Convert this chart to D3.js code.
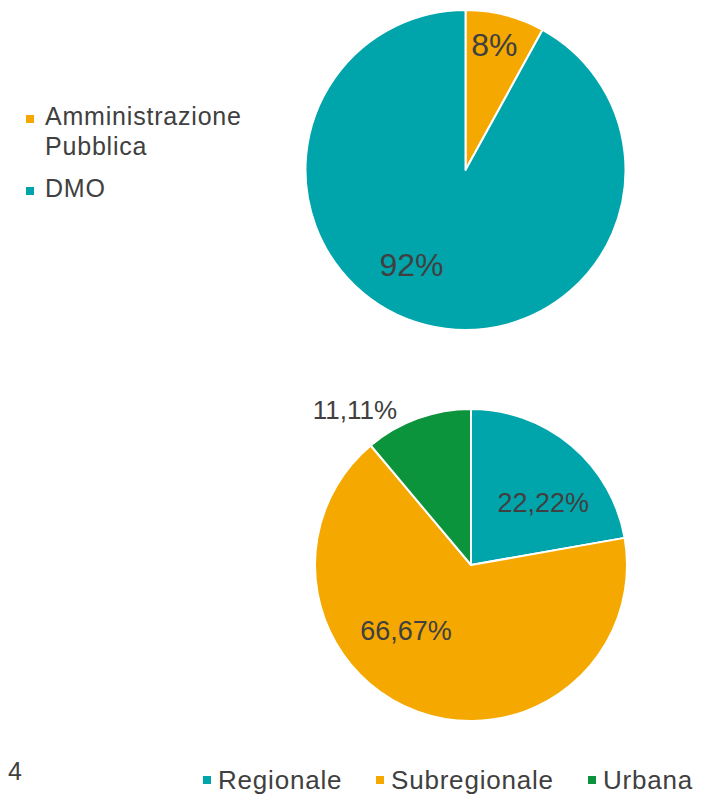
<!DOCTYPE html>
<html>
<head>
<meta charset="utf-8">
<script src="https://cdn.jsdelivr.net/npm/d3@7"></script>
<style>
  html, body { margin: 0; padding: 0; background: #ffffff; }
  svg { display: block; }
  svg text { font-family: Arial, "Liberation Sans", Arimo, sans-serif; }
</style>
</head>
<body>
<svg id="chart" width="709" height="795"></svg>
<script>
// Soggetto gestore
const enteCategories = ["Amministrazione Pubblica", "DMO"];
const enteValues = [8, 92];
const enteLabels = ["8%", "92%"];

// Ambito territoriale
const ambitoCategories = ["Regionale", "Subregionale", "Urbana"];
const ambitoValues = [22.22, 66.67, 11.11];
const ambitoLabels = ["22,22%", "66,67%", "11,11%"];

const pageNumber = "4";

const TEAL = "#00A5AC", ORANGE = "#F5A800", GREEN = "#0B943B", TEXT = "#404040";

const svg = d3.select("#chart");

function drawPie(cfg) {
  const g = svg.append("g").attr("transform", `translate(${cfg.cx},${cfg.cy})`);
  const pie = d3.pie().sort(null).value(d => d.value);
  const arc = d3.arc().innerRadius(0).outerRadius(cfg.r);
  const data = cfg.categories.map((c, i) => ({ cat: c, value: cfg.values[i], label: cfg.labels[i] }));
  const arcs = pie(data);

  g.selectAll("path.slice").data(arcs).join("path")
    .attr("class", "slice")
    .attr("d", arc)
    .attr("fill", d => cfg.color(d.data.cat))
    .attr("stroke", "#ffffff")
    .attr("stroke-width", 2)
    .attr("stroke-linejoin", "round");

  g.selectAll("text.val").data(arcs).join("text")
    .attr("class", "val")
    .attr("transform", (d, i) => {
      const lr = cfg.r * cfg.labelRadius[i];
      const [x, y] = d3.arc().innerRadius(lr).outerRadius(lr).centroid(d);
      return `translate(${x + cfg.nudge[i][0]},${y + cfg.nudge[i][1]})`;
    })
    .attr("text-anchor", "middle")
    .attr("dy", "0.36em")
    .attr("font-size", (d, i) => cfg.fontSize[i])
    .attr("fill", TEXT)
    .text(d => d.data.label);
}

const enteColor = d3.scaleOrdinal().domain(enteCategories).range([ORANGE, TEAL]);
drawPie({
  cx: 465.5, cy: 170, r: 160,
  categories: enteCategories, values: enteValues, labels: enteLabels,
  color: enteColor,
  labelRadius: [0.8, 0.68],
  nudge: [[-3, -2], [-27, -11]],
  fontSize: [32, 32]
});

const ambitoColor = d3.scaleOrdinal().domain(ambitoCategories).range([TEAL, ORANGE, GREEN]);
drawPie({
  cx: 471, cy: 565, r: 156,
  categories: ambitoCategories, values: ambitoValues, labels: ambitoLabels,
  color: ambitoColor,
  labelRadius: [0.62, 0.62, 1.22],
  nudge: [[10, 11], [-32, -26], [-51, 23]],
  fontSize: [27, 27, 26]
});

// Legenda verticale (grafico superiore)
const legTop = svg.append("g").attr("fill", TEXT).attr("font-size", 25).attr("letter-spacing", "0.8px");
const topRows = [
  { cat: enteCategories[0], lines: ["Amministrazione", "Pubblica"], y: 125 },
  { cat: enteCategories[1], lines: ["DMO"], y: 197 }
];
topRows.forEach(row => {
  legTop.append("rect")
    .attr("x", 26).attr("y", row.y - 10).attr("width", 8).attr("height", 8)
    .attr("fill", enteColor(row.cat));
  const t = legTop.append("text").attr("x", 45).attr("y", row.y);
  row.lines.forEach((ln, i) => {
    t.append("tspan").attr("x", 45).attr("dy", i === 0 ? 0 : 30).text(ln);
  });
});

// Legenda orizzontale (grafico inferiore)
const legBottom = svg.append("g").attr("fill", TEXT).attr("font-size", 26).attr("letter-spacing", "0.8px");
const bottomX = [203, 376, 588];
ambitoCategories.forEach((c, i) => {
  legBottom.append("rect")
    .attr("x", bottomX[i]).attr("y", 776).attr("width", 8).attr("height", 8)
    .attr("fill", ambitoColor(c));
  legBottom.append("text").attr("x", bottomX[i] + 15).attr("y", 789).text(c);
});

// Numero di pagina
svg.append("text").attr("x", 8).attr("y", 780)
  .attr("font-size", 25).attr("fill", TEXT).text(pageNumber);
</script>
</body>
</html>
